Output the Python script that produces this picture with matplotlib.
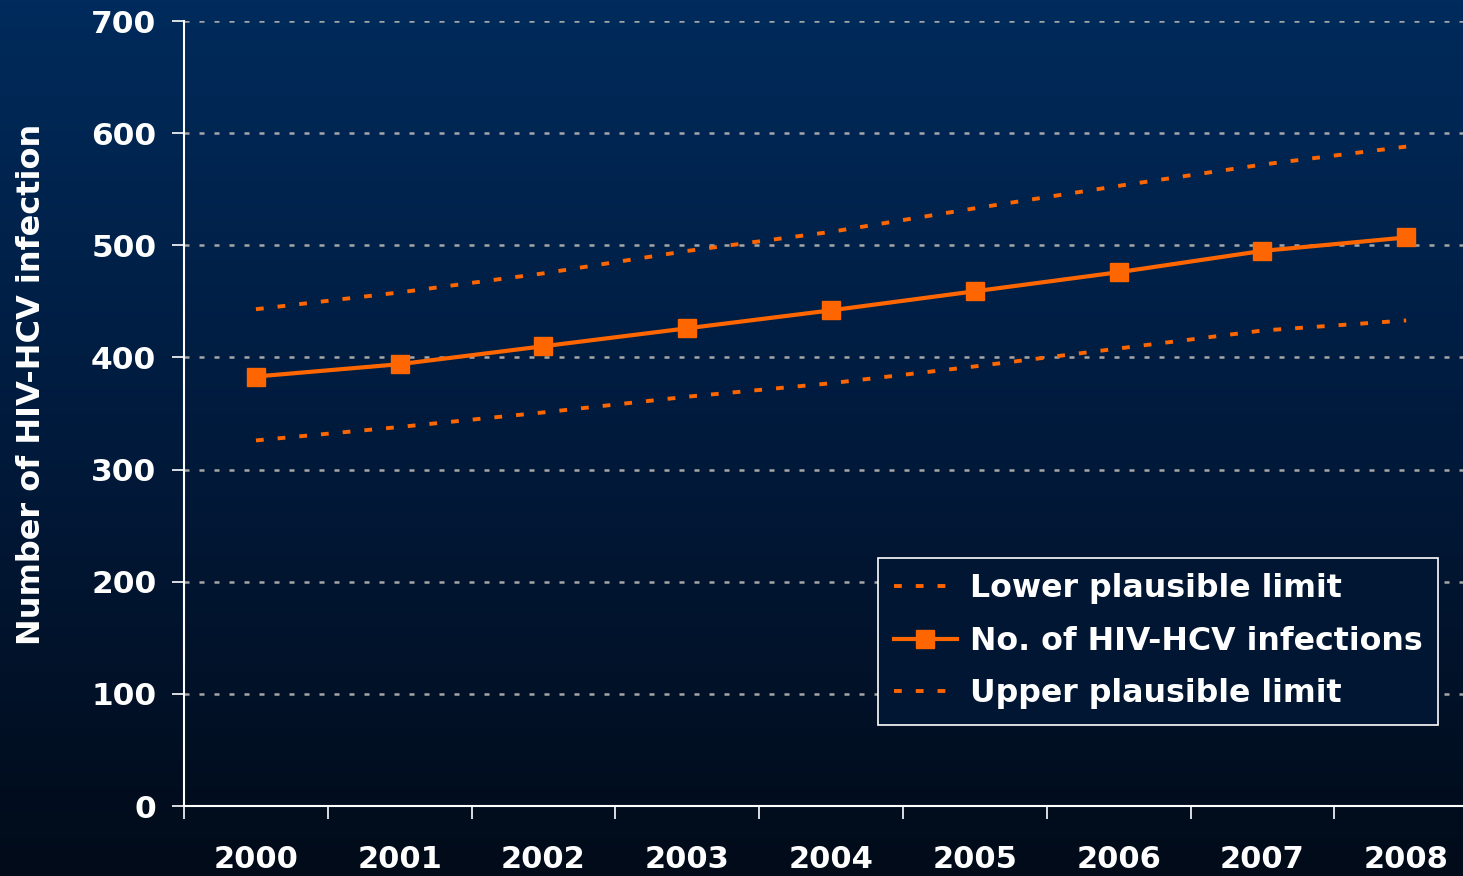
import numpy as np
import matplotlib.pyplot as plt
from matplotlib.colors import LinearSegmentedColormap

years = ['2000', '2001', '2002', '2003', '2004', '2005', '2006', '2007', '2008']
infections = [383, 394, 410, 426, 442, 459, 476, 495, 507]
upper_limit = [443, 458, 475, 495, 512, 533, 553, 572, 588]
lower_limit = [326, 338, 351, 365, 377, 392, 408, 424, 433]

orange = '#ff6600'

fig = plt.figure(figsize=(14.63, 8.76), dpi=100)

# gradient background
bg = fig.add_axes([0, 0, 1, 1], zorder=-1)
cmap = LinearSegmentedColormap.from_list('bg', ['#002b5c', '#011a3c', '#020b19'])
bg.imshow(np.linspace(0, 1, 256).reshape(-1, 1), aspect='auto', cmap=cmap,
          extent=[0, 1, 0, 1])
bg.axis('off')

ax = fig.add_axes([0.1258, 0.0799, 0.8845, 0.8961])
ax.patch.set_alpha(0)

x = np.arange(len(years))
ax.plot(x, lower_limit, color=orange, lw=2.8, linestyle=(0, (2, 3.6)),
        label='Lower plausible limit')
ax.plot(x, infections, color=orange, lw=3, marker='s', markersize=13,
        label='No. of HIV-HCV infections')
ax.plot(x, upper_limit, color=orange, lw=2.8, linestyle=(0, (2, 3.6)),
        label='Upper plausible limit')

ax.set_xlim(-0.5, len(years) - 0.5)
ax.set_ylim(0, 700)
ax.set_yticks(range(0, 701, 100))
ax.grid(axis='y', color='#a6a6a6', linestyle=(0, (2, 4)), lw=1.8)
ax.set_axisbelow(True)

# category boundaries get the tick marks, labels sit at the centres
ax.set_xticks(np.arange(-0.5, len(years), 1.0))
ax.set_xticklabels([])
ax.set_xticks(x, minor=True)
ax.set_xticklabels(years, minor=True)
ax.tick_params(axis='x', which='major', direction='out', length=9, width=1.2,
               color='white')
ax.tick_params(axis='x', which='minor', length=0, pad=28, labelsize=22,
               labelcolor='white')
ax.tick_params(axis='y', direction='out', length=9, width=1.2, color='white',
               labelsize=22.5, labelcolor='white', pad=11)
for lab in ax.get_xticklabels(minor=True) + ax.get_yticklabels():
    lab.set_fontweight('bold')

for s in ['top', 'right']:
    ax.spines[s].set_visible(False)
for s in ['left', 'bottom']:
    ax.spines[s].set_color('white')
    ax.spines[s].set_linewidth(1.5)

ax.set_ylabel('Number of HIV-HCV infection', color='white', fontsize=23,
              fontweight='bold')
ax.yaxis.set_label_coords(-0.106, 0.537)

leg = ax.legend(loc='lower left', bbox_to_anchor=(0.600, 0.172),
                bbox_transform=fig.transFigure, borderaxespad=0,
                fancybox=False, facecolor='#011632', edgecolor='white',
                framealpha=1, handlelength=2.0, handletextpad=0.4,
                labelspacing=0.68, borderpad=0.5,
                prop={'size': 22.8, 'weight': 'bold'})
leg.get_frame().set_linewidth(1.2)
for t in leg.get_texts():
    t.set_color('white')

fig.savefig('out.png', dpi=100)
